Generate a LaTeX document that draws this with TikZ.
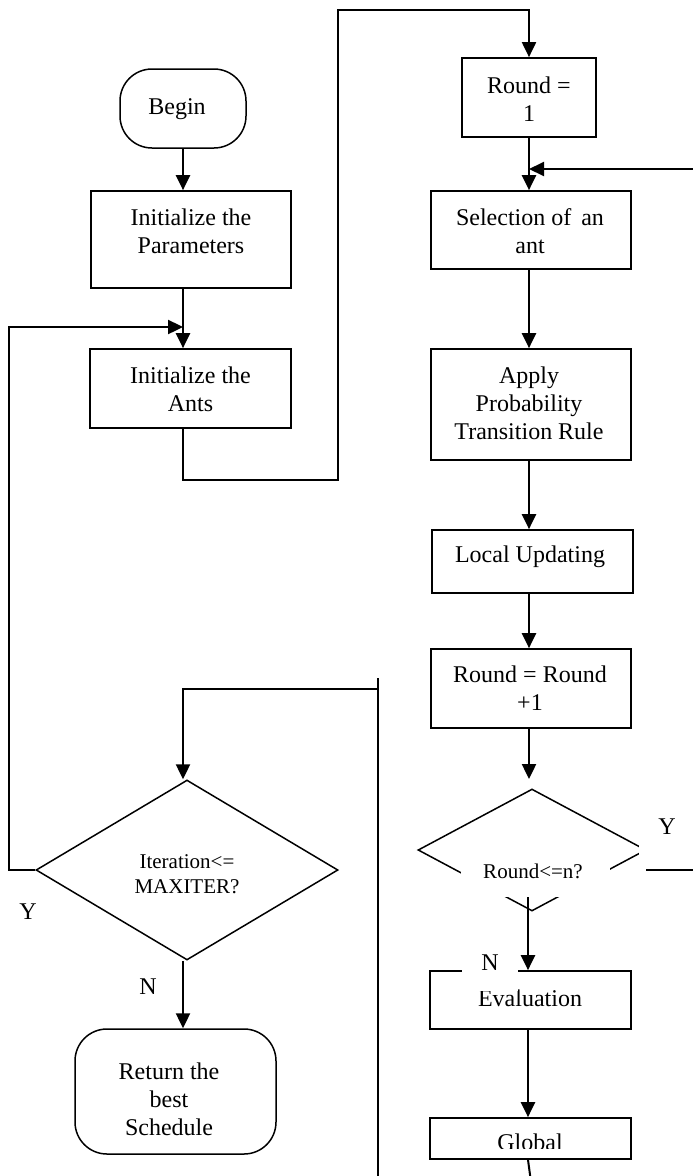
\documentclass[tikz,border=0pt]{standalone}
\usepackage{fontspec}
\setmainfont{Liberation Serif}
\usetikzlibrary{arrows.meta,shapes.geometric}
\begin{document}
\begin{tikzpicture}[x=1pt,y=-1pt,
  every node/.style={font=\fontsize{24}{28}\selectfont, align=center, inner sep=0pt},
  box/.style={draw, rectangle, line width=1.7pt},
  term/.style={draw, rectangle, line width=1.5pt, rounded corners=32pt},
  dia/.style={draw, diamond, line width=1.5pt},
  small/.style={font=\fontsize{21}{25}\selectfont},
  arr/.style={line width=2.4pt, -{Triangle[length=15pt,width=14pt]}},
  ln/.style={line width=2pt},
  lnarr/.style={line width=2pt, -{Triangle[length=15pt,width=14pt]}},
]
\useasboundingbox (0,0) rectangle (693,1176);
\fill[white] (0,0) rectangle (693,1176);

% ---- left column ----
\node[term, minimum width=126pt, minimum height=79pt] (begin) at (183,108.5) {};
\node (begint) at (177,109) {Begin};
\node[box, minimum width=200pt, minimum height=97pt] (param) at (191,239.5) {};
\node (paramt) at (191,231) {Initialize the\\Parameters};
\node[box, minimum width=201pt, minimum height=79pt] (ants) at (190.5,388.5) {};
\node (antst) at (190.5,389) {Initialize the\\Ants};
\node[dia, minimum width=302pt, minimum height=180pt] (iter) at (187,870) {};
\node[small] (itert) at (187,874.5) {Iteration<=\\MAXITER?};
\node[term, minimum width=201pt, minimum height=125pt] (ret) at (175.5,1091.5) {};
\node (rett) at (169,1099) {Return the\\best\\Schedule};

% ---- right column ----
\node[box, minimum width=134pt, minimum height=79pt] (r1) at (529,97.5) {};
\node (r1t) at (529,99) {Round =\\1};
\node[box, minimum width=200pt, minimum height=78pt] (sel) at (531,230) {};
\node (selt) at (530,231) {Selection of\, an\\ant};
\node[box, minimum width=200pt, minimum height=111pt] (apply) at (531,404.5) {};
\node (applyt) at (529,403) {Apply\\Probability\\Transition Rule};
\node[box, minimum width=201pt, minimum height=63pt] (local) at (532.5,561.5) {};
\node (localt) at (530,557) {Local Updating};
\node[box, minimum width=200pt, minimum height=79pt] (rinc) at (531,688.5) {};
\node (rinct) at (530,688.5) {Round = Round\\+1};
\node[dia, minimum width=228pt, minimum height=122pt] (rdia) at (532,850) {};
\node[box, minimum width=201pt, minimum height=58pt] (eval) at (530.5,1000) {};
\node (evalt) at (530,998.5) {Evaluation};
\node[box, minimum width=201pt, minimum height=41pt] (glob) at (530.5,1138.5) {};
\node (globt) at (530,1142) {Global};
\fill[white] (432,1148.5) rectangle (629,1157.5);

% occluding label backgrounds
\fill[white] (461,866) rectangle (610,897);
\node[small] (rdiat) at (533,871) {Round<=n?};
\fill[white] (639,800) rectangle (693,856);
\node (ylabr) at (667,827) {Y};
\fill[white] (462,945) rectangle (518,991);
\node (nlabr) at (490,963) {N};
\node (ylabl) at (28,912) {Y};
\node (nlabl) at (148,987) {N};

% ---- coordinates ----
\coordinate (cl) at (183,0);
\coordinate (cr) at (529,0);
\coordinate (loopin) at (183,327);
\coordinate (lowL) at (183,480);
\coordinate (lowR) at (338,480);
\coordinate (topL) at (338,10);
\coordinate (topR) at (529,10);
\coordinate (yout) at (646,870);
\coordinate (yfar) at (706,870);
\coordinate (yfartop) at (706,169);
\coordinate (selin) at (529,169);
\coordinate (dtop) at (529,779);
\coordinate (dbot) at (528,897);
\coordinate (gout) at (531,1182);
\coordinate (vtop) at (378,678);
\coordinate (vbot) at (378,1182);
\coordinate (hR) at (378,689);
\coordinate (hL) at (183,689);

% ---- connectors ----
\draw[arr] (begin.south) -- (cl |- param.north);
\draw[arr] (cl |- param.south) -- (cl |- ants.north);
\draw[arr] (iter.west) -- (9,870) |- (loopin);
\draw[lnarr] (cl |- ants.south) -- (lowL) -- (lowR) -- (topL) -- (topR) -- (r1.north);
\draw[arr] (r1.south) -- (cr |- sel.north);
\draw[lnarr] (yout) -- (yfar) -- (yfartop) -- (selin);
\draw[arr] (cr |- sel.south) -- (cr |- apply.north);
\draw[arr] (cr |- apply.south) -- (cr |- local.north);
\draw[arr] (cr |- local.south) -- (cr |- rinc.north);
\draw[arr] (cr |- rinc.south) -- (dtop);
\draw[arr] (dbot) -- (dbot |- eval.north);
\draw[arr] (dbot |- eval.south) -- (dbot |- glob.north);
\draw[ln] (dbot |- glob.south) -- (gout);
\draw[ln] (vtop) -- (vbot);
\draw[arr] (hR) -- (hL) -- (cl |- iter.north);
\draw[arr] (cl |- iter.south) -- (cl |- ret.north);
\end{tikzpicture}
\end{document}
